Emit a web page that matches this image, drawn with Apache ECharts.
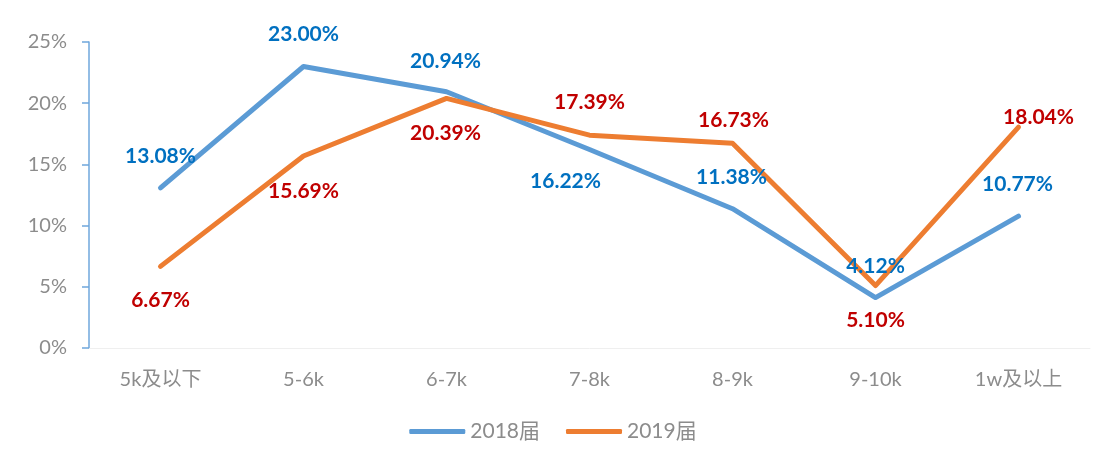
<!DOCTYPE html>
<html>
<head>
<meta charset="utf-8">
<script src="https://cdn.jsdelivr.net/npm/echarts@6/dist/echarts.min.js"></script>
<style>
  html, body { margin: 0; padding: 0; background: #fff; }
  #chart { width: 1106px; height: 463px; }
</style>
</head>
<body>
<div id="chart"></div>
<script>
var categories = ['5k及以下', '5-6k', '6-7k', '7-8k', '8-9k', '9-10k', '1w及以上'];
var values2018 = [13.08, 23.00, 20.94, 16.22, 11.38, 4.12, 10.77];
var values2019 = [6.67, 15.69, 20.39, 17.39, 16.73, 5.10, 18.04];
var seriesNames = ['2018届', '2019届'];

// label offsets (px) from each point
var offsets2018 = [[0, -31], [0, -32], [-1, -30], [-24, 32], [-1, -31], [0, -31], [-1, -31]];
var offsets2019 = [[0, 34], [0, 36], [-1, 35], [0, -32], [1, -22], [0, 35], [20, -9]];

var chart = echarts.init(document.getElementById('chart'));
var font = 'Lato, "Noto Sans CJK SC", sans-serif';

function buildData(vals, offs) {
    var out = [];
    for (var i = 0; i < vals.length; i++) {
        out.push({ value: vals[i], label: { offset: offs[i] } });
    }
    return out;
}

function labelStyle(color) {
    return {
        show: true,
        position: 'top',
        distance: 0,
        verticalAlign: 'middle',
        color: color,
        fontSize: 21,
        fontWeight: 'bold',
        fontFamily: font,
        formatter: function (p) { return p.value.toFixed(2) + '%'; }
    };
}

chart.setOption({
    animation: false,
    grid: { left: 89, right: 16, top: 42, bottom: 115 },
    legend: {
        data: seriesNames,
        bottom: 16,
        left: 'center',
        icon: 'roundRect',
        itemWidth: 56,
        itemHeight: 5,
        itemGap: 26,
        textStyle: { color: '#8c8c8c', fontSize: 21, fontFamily: font }
    },
    xAxis: {
        type: 'category',
        data: categories,
        boundaryGap: true,
        axisLine: { lineStyle: { color: '#efefef', width: 1 } },
        axisTick: { show: false },
        axisLabel: { color: '#8c8c8c', fontSize: 20, fontFamily: font, margin: 22 }
    },
    yAxis: {
        type: 'value',
        min: 0,
        max: 25,
        interval: 5,
        axisLine: { show: true, lineStyle: { color: '#6fa7dc', width: 1.5 } },
        axisTick: { show: true, inside: false, length: 7, lineStyle: { color: '#6fa7dc', width: 1.5 } },
        splitLine: { show: false },
        axisLabel: { color: '#8c8c8c', fontSize: 20, fontFamily: font, margin: 22, formatter: '{value}%' }
    },
    series: [
        {
            name: seriesNames[0],
            type: 'line',
            symbol: 'circle',
            symbolSize: 1,
            showSymbol: true,
            data: buildData(values2018, offsets2018),
            lineStyle: { color: '#5b9bd5', width: 5, cap: 'round', join: 'round' },
            itemStyle: { color: '#5b9bd5' },
            label: labelStyle('#0070c0')
        },
        {
            name: seriesNames[1],
            type: 'line',
            symbol: 'circle',
            symbolSize: 1,
            showSymbol: true,
            data: buildData(values2019, offsets2019),
            lineStyle: { color: '#ed7d31', width: 5, cap: 'round', join: 'round' },
            itemStyle: { color: '#ed7d31' },
            label: labelStyle('#c00000')
        }
    ]
});
</script>
</body>
</html>
